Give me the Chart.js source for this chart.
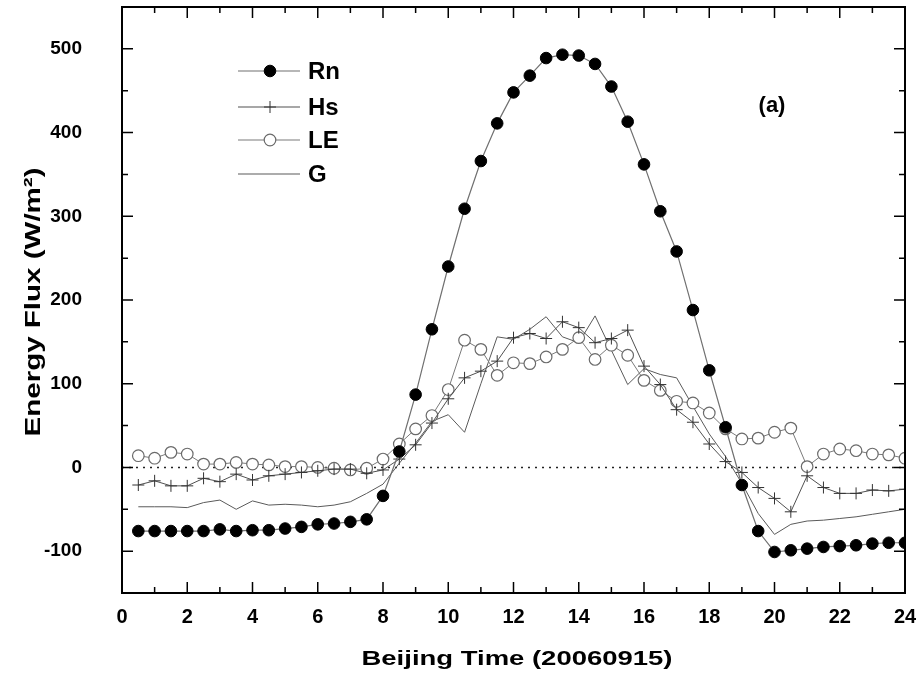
<!DOCTYPE html>
<html>
<head>
<meta charset="utf-8">
<script src="https://cdn.jsdelivr.net/npm/chart.js@4.4.0/dist/chart.umd.min.js"></script>
<style>
  html, body { margin: 0; padding: 0; background: #fff; }
  #graphe { display: block; }
</style>
</head>
<body>
<canvas id="graphe" width="920" height="678"></canvas>
<script>
// === DONNÉES ===
const heures = [0.5, 1, 1.5, 2, 2.5, 3, 3.5, 4, 4.5, 5, 5.5, 6, 6.5, 7, 7.5, 8,
  8.5, 9, 9.5, 10, 10.5, 11, 11.5, 12, 12.5, 13, 13.5, 14, 14.5, 15, 15.5, 16,
  16.5, 17, 17.5, 18, 18.5, 19, 19.5, 20, 20.5, 21, 21.5, 22, 22.5, 23, 23.5, 24];

const rn = [-76, -76, -76, -76, -76, -74, -76, -75, -75, -73, -71, -68, -67, -65, -62, -34,
  19, 87, 165, 240, 309, 366, 411, 448, 468, 489, 493, 492, 482, 455, 413, 362,
  306, 258, 188, 116, 48, -21, -76, -101, -99, -97, -95, -94, -93, -91, -90, -90];

const hs = [-21, -16, -22, -22, -13, -17, -8, -15, -10, -8, -6, -4, -2, -2, -7, -3,
  10, 27, 53, 82, 107, 115, 127, 155, 160, 154, 174, 167, 149, 154, 164, 121,
  99, 69, 54, 28, 7, -6, -24, -37, -53, -10, -24, -31, -31, -27, -28, -26];

const le = [14, 11, 18, 16, 4, 4, 6, 4, 3, 1, 1, 0, -1, -3, -1, 10,
  28, 46, 62, 93, 152, 141, 110, 125, 124, 132, 141, 155, 129, 146, 134, 104,
  92, 79, 77, 65, 46, 34, 35, 42, 47, 1, 16, 22, 20, 16, 15, 11];

const g = [-47, -47, -47, -48, -42, -39, -50, -40, -45, -44, -45, -47, -45, -41, -31, -20,
  5, 29, 55, 63, 42, 100, 156, 153, 165, 180, 156, 149, 181, 140, 99, 118,
  111, 107, 73, 40, 13, -19, -55, -80, -68, -64, -63, -61, -59, -56, -53, -50];

const ticksX = [0, 2, 4, 6, 8, 10, 12, 14, 16, 18, 20, 22, 24];
const ticksY = [-100, 0, 100, 200, 300, 400, 500];
const zero = [0, 0];
const bornesZero = [0, 24];

const titreX = 'Beijing Time (20060915)';
const titreY = 'Energy Flux (W/m²)';

// POINTS {x, y}
function points(valeurs) {
  return valeurs.map((v, i) => ({ x: heures[i], y: v }));
}

// TEXTE ÉTIRÉ À UNE LONGUEUR DONNÉE
function texteEtire(ctx, texte, cx, cy, longueur, angle) {
  ctx.save();
  ctx.translate(cx, cy);
  ctx.rotate(angle);
  const k = longueur / ctx.measureText(texte).width;
  ctx.scale(k, 1);
  ctx.fillText(texte, 0, 0);
  ctx.restore();
}

// CADRE, GRADUATIONS INTERNES, LÉGENDE, TITRES
const cadre = {
  id: 'cadre',
  afterDatasetsDraw(chart) {
    const { ctx, chartArea: a, scales: { x, y } } = chart;
    ctx.save();
    ctx.strokeStyle = '#000';
    ctx.lineWidth = 1.5;
    ctx.beginPath();
    for (let h = 1; h < 24; h++) {
      const px = x.getPixelForValue(h);
      const long = h % 2 === 0 ? 11 : 6;
      ctx.moveTo(px, a.bottom); ctx.lineTo(px, a.bottom - long);
      ctx.moveTo(px, a.top); ctx.lineTo(px, a.top + long);
    }
    for (let v = -100; v < 550; v += 50) {
      const py = y.getPixelForValue(v);
      const long = v % 100 === 0 ? 11 : 6;
      ctx.moveTo(a.left, py); ctx.lineTo(a.left + long, py);
      ctx.moveTo(a.right, py); ctx.lineTo(a.right - long, py);
    }
    ctx.stroke();
    ctx.lineWidth = 2;
    ctx.strokeRect(a.left, a.top, a.right - a.left, a.bottom - a.top);

    // légende
    const lignes = [71, 107, 140, 174];
    chart.data.datasets.slice(0, 4).forEach((ds, i) => {
      const ly = lignes[i];
      ctx.strokeStyle = ds.borderColor;
      ctx.lineWidth = 1.2;
      ctx.beginPath();
      ctx.moveTo(238, ly); ctx.lineTo(300, ly);
      ctx.stroke();
      if (ds.pointRadius > 0) {
        ctx.fillStyle = ds.pointBackgroundColor;
        ctx.strokeStyle = ds.pointBorderColor;
        ctx.lineWidth = ds.pointBorderWidth;
        Chart.helpers.drawPoint(ctx, {
          pointStyle: ds.pointStyle, radius: ds.pointRadius,
          borderWidth: ds.pointBorderWidth, rotation: 0
        }, 270, ly);
      }
      ctx.fillStyle = '#000';
      ctx.font = 'bold 24px "Liberation Sans", Arial, sans-serif';
      ctx.textBaseline = 'middle';
      ctx.textAlign = 'left';
      ctx.fillText(ds.label, 308, ly + 1);
    });

    ctx.font = 'bold 22px "Liberation Sans", Arial, sans-serif';
    ctx.textAlign = 'center';
    ctx.fillText('(a)', 772, 106);

    // titres des axes
    ctx.textBaseline = 'alphabetic';
    ctx.font = 'bold 21px "Liberation Sans", Arial, sans-serif';
    texteEtire(ctx, titreX, 517, 665, 311, 0);
    ctx.font = 'bold 22px "Liberation Sans", Arial, sans-serif';
    texteEtire(ctx, titreY, 39.5, 302, 269, -Math.PI / 2);
    ctx.restore();
  }
};

// CRÉER LE GRAPHIQUE
new Chart(document.getElementById('graphe'), {
  type: 'line',
  data: {
    datasets: [
      {
        label: 'Rn', data: points(rn),
        borderColor: '#707070', borderWidth: 1.2,
        pointStyle: 'circle', pointRadius: 5.8,
        pointBackgroundColor: '#000', pointBorderColor: '#000', pointBorderWidth: 1
      },
      {
        label: 'Hs', data: points(hs),
        borderColor: '#505050', borderWidth: 1,
        pointStyle: 'cross', pointRadius: 6,
        pointBackgroundColor: '#333', pointBorderColor: '#333', pointBorderWidth: 1
      },
      {
        label: 'LE', data: points(le),
        borderColor: '#7a7a7a', borderWidth: 1,
        pointStyle: 'circle', pointRadius: 5.8,
        pointBackgroundColor: '#fff', pointBorderColor: '#6a6a6a', pointBorderWidth: 1.2
      },
      {
        label: 'G', data: points(g),
        borderColor: '#5a5a5a', borderWidth: 1,
        pointRadius: 0
      },
      {
        label: 'zero', data: bornesZero.map((h, i) => ({ x: h, y: zero[i] })),
        borderColor: '#222', borderWidth: 1.5, borderDash: [2, 5],
        pointRadius: 0, order: 10
      }
    ]
  },
  options: {
    responsive: false,
    animation: false,
    layout: { padding: { left: 0, right: 15, top: 7, bottom: 0 } },
    plugins: { legend: { display: false }, tooltip: { enabled: false } },
    elements: { line: { tension: 0 } },
    scales: {
      x: {
        type: 'linear', min: 0, max: 24,
        afterBuildTicks: s => { s.ticks = ticksX.map(v => ({ value: v })); },
        afterFit: s => { s.height = 85; s.paddingLeft = 0; s.paddingRight = 0; },
        grid: { display: false, drawTicks: false },
        border: { display: false },
        ticks: {
          color: '#000', padding: 12, maxRotation: 0,
          font: { family: '"Liberation Sans", Arial', size: 20, weight: 'bold' }
        }
      },
      y: {
        type: 'linear', min: -150, max: 550,
        afterBuildTicks: s => { s.ticks = ticksY.map(v => ({ value: v })); },
        afterFit: s => { s.width = 122; s.paddingTop = 0; s.paddingBottom = 0; },
        grid: { display: false, drawTicks: false },
        border: { display: false },
        ticks: {
          color: '#000', padding: 40,
          font: { family: '"Liberation Sans", Arial', size: 19, weight: 'bold' }
        }
      }
    }
  },
  plugins: [cadre]
});
</script>
</body>
</html>
